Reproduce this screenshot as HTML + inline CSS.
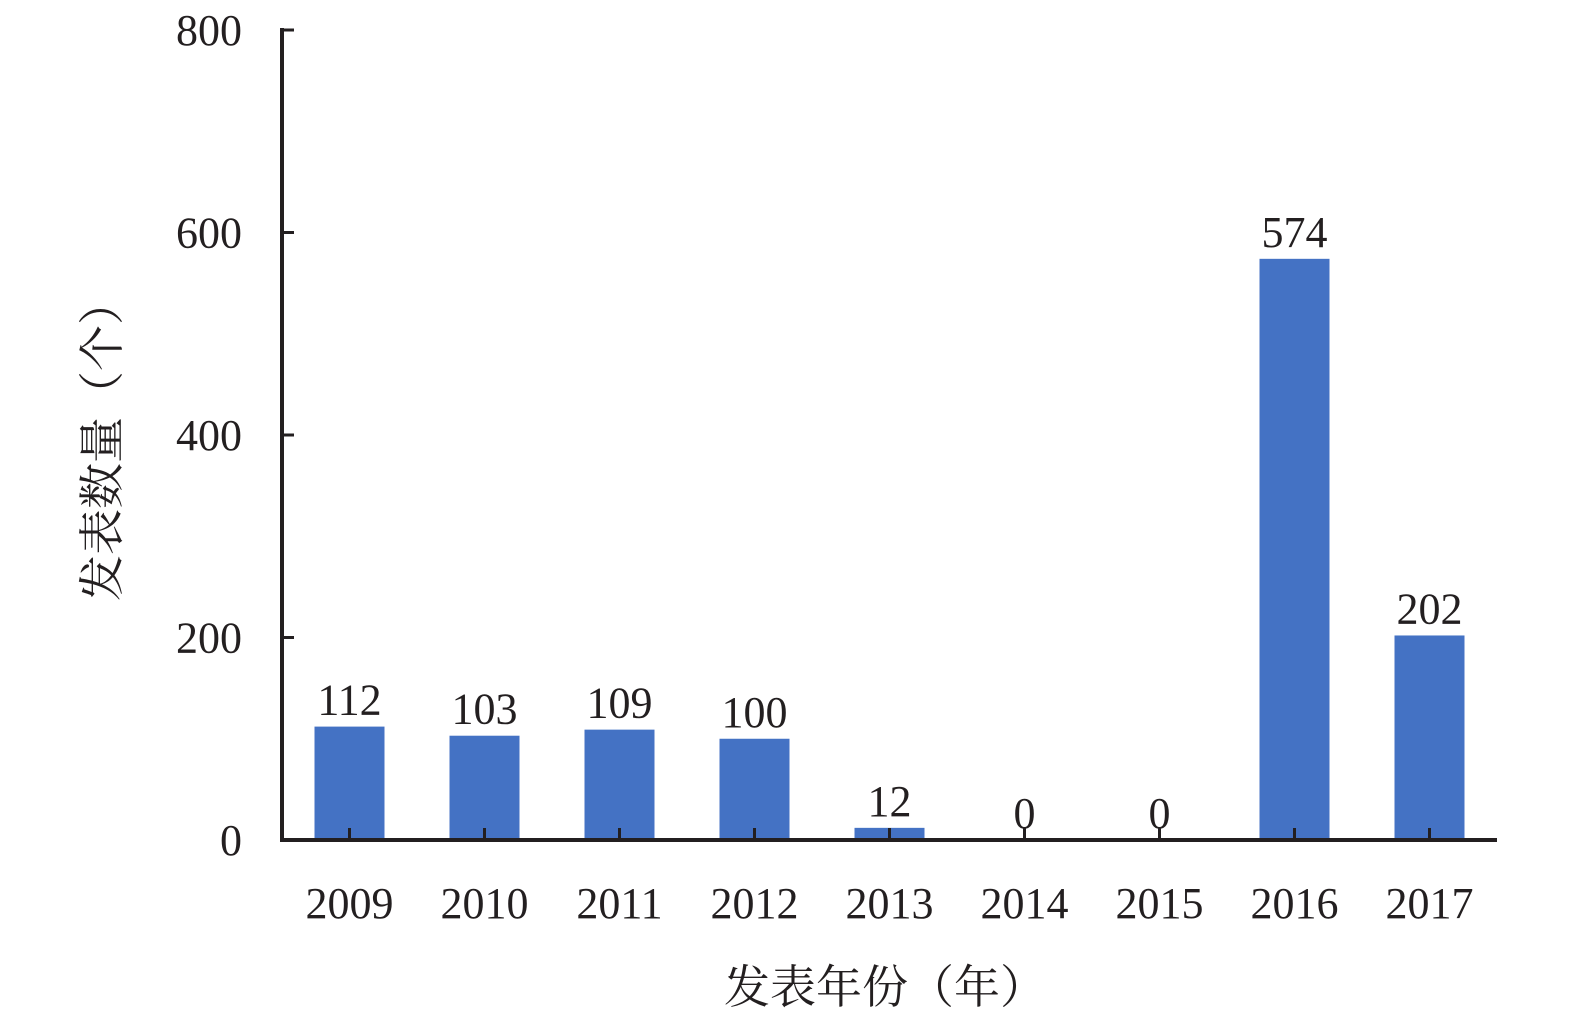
<!DOCTYPE html>
<html><head><meta charset="utf-8"><style>
body{margin:0;background:#fff;}
svg text{font-family:"Liberation Serif","Noto Serif CJK SC",serif;fill:#231f20;}
</style></head><body>
<svg width="1575" height="1024" viewBox="0 0 1575 1024">
<g id="bars"></g>
<g id="axes"></g>
<text x="885" y="1003" font-size="46" text-anchor="middle">发表年份（年）</text>
<text transform="translate(118,440) rotate(-90)" font-size="46" text-anchor="middle">发表数量（个）</text>
</svg>
<script>
const categories=["2009","2010","2011","2012","2013","2014","2015","2016","2017"];
const values=[112,103,109,100,12,0,0,574,202];
const yTicks=[0,200,400,600,800];
const ns="http://www.w3.org/2000/svg";
const x0=282,x1=1497,y0=840,yTop=30,yMax=800;
const band=(x1-x0)/categories.length;
const xC=i=>x0+band*(i+0.5);
const yS=v=>y0-(v/yMax)*(y0-yTop);
const bars=document.getElementById('bars'),axes=document.getElementById('axes');
function mk(t,a,p){const e=document.createElementNS(ns,t);for(const k in a)e.setAttribute(k,a[k]);p.appendChild(e);return e;}
values.forEach((v,i)=>{
  if(v>0){const r=mk('rect',{x:xC(i)-35,y:yS(v),width:70,height:y0-yS(v),fill:'#4472c4'},bars);
  
  }
  const t=mk('text',{x:xC(i),y:yS(v)-12,'font-size':44,'text-anchor':'middle'},bars);t.textContent=v;
  
  
  const l=mk('text',{x:xC(i),y:918,'font-size':44,'text-anchor':'middle'},axes);l.textContent=categories[i];
  
  
  const tk=mk('line',{x1:xC(i),x2:xC(i),y1:y0,y2:y0-12,stroke:'#231f20','stroke-width':3},axes);
  
  
});
yTicks.forEach(v=>{
  const t=mk('text',{x:242,y:yS(v)+15,'font-size':44,'text-anchor':'end'},axes);t.textContent=v;
  
  
  const tk=mk('line',{x1:x0,x2:x0+12,y1:yS(v),y2:yS(v),stroke:'#231f20','stroke-width':3},axes);
  
  
});
const ya=mk('line',{x1:x0,x2:x0,y1:yTop-2,y2:y0+2,stroke:'#231f20','stroke-width':4},axes);


const xa=mk('line',{x1:x0-2,x2:x1,y1:y0,y2:y0,stroke:'#231f20','stroke-width':4},axes);


</script>
</body></html>
